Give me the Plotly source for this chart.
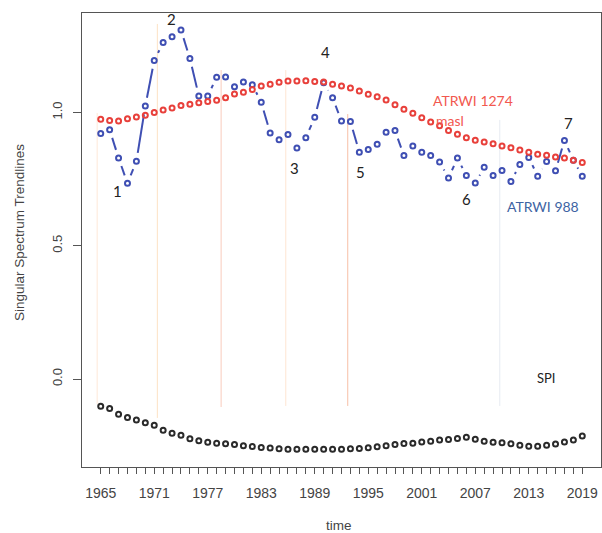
import plotly.graph_objects as go

years = list(range(1965, 2020))

atrwi_988 = [0.921, 0.935, 0.829, 0.734, 0.817, 1.024, 1.195, 1.262, 1.284, 1.309,
             1.202, 1.062, 1.062, 1.132, 1.133, 1.096, 1.114, 1.104, 1.038, 0.923,
             0.898, 0.917, 0.867, 0.905, 0.982, 1.111, 1.055, 0.968, 0.966, 0.851,
             0.861, 0.881, 0.926, 0.932, 0.838, 0.874, 0.851, 0.838, 0.814, 0.754,
             0.829, 0.763, 0.735, 0.794, 0.763, 0.782, 0.741, 0.805, 0.831, 0.761,
             0.816, 0.781, 0.895, 0.821, 0.761]

atrwi_1274 = [0.974, 0.970, 0.968, 0.976, 0.983, 0.989, 1.000, 1.009, 1.017, 1.026,
              1.031, 1.036, 1.041, 1.046, 1.055, 1.069, 1.076, 1.086, 1.099, 1.106,
              1.113, 1.118, 1.118, 1.119, 1.116, 1.114, 1.106, 1.099, 1.092, 1.080,
              1.068, 1.059, 1.047, 1.029, 1.012, 0.997, 0.980, 0.964, 0.950, 0.932,
              0.918, 0.905, 0.896, 0.889, 0.883, 0.874, 0.868, 0.859, 0.851, 0.843,
              0.839, 0.833, 0.829, 0.821, 0.812]

spi = [-0.102, -0.111, -0.132, -0.144, -0.154, -0.164, -0.173, -0.192, -0.203, -0.211,
       -0.224, -0.232, -0.237, -0.241, -0.243, -0.246, -0.250, -0.253, -0.257, -0.259,
       -0.262, -0.263, -0.263, -0.263, -0.263, -0.263, -0.263, -0.263, -0.262, -0.261,
       -0.258, -0.254, -0.250, -0.246, -0.242, -0.241, -0.236, -0.233, -0.229, -0.227,
       -0.223, -0.218, -0.226, -0.233, -0.237, -0.239, -0.243, -0.248, -0.252, -0.252,
       -0.248, -0.244, -0.236, -0.229, -0.214]

tick_years = list(range(1965, 2020))
label_years = list(range(1965, 2020, 6))
y_ticks = [0.0, 0.5, 1.0]
y_tick_labels = ["0.0", "0.5", "1.0"]

# Vertical marker lines (period boundaries)
vline_years = [1964.6, 1971.35, 1978.5, 1985.75, 1992.7, 2009.75]
vline_tops = [0.998, 1.332, 1.159, 1.159, 0.994, 0.972]
vline_bottoms = [-0.094, -0.146, -0.105, -0.101, -0.101, -0.101]
vline_colors = ["#fee8d8", "#fde2c4", "#f9cbbd", "#fee5d3", "#f7bfa6", "#e6ebf2"]

# Layout geometry
W, H = 602, 533
ML, MR, MT, MB = 82, 1, 13, 66
X_RANGE = [1962.9, 2021.1]
Y_RANGE = [-0.330, 1.373]
plot_w = W - ML - MR
plot_h = H - MT - MB
sx = plot_w / (X_RANGE[1] - X_RANGE[0])
sy = plot_h / (Y_RANGE[1] - Y_RANGE[0])

BLUE = "#3f4fb3"
RED = "#e8403b"

# R type="b" style line: segments shortened around each point
GAP = 8.5
seg_x, seg_y = [], []
for i in range(len(years) - 1):
    x0, y0 = years[i], atrwi_988[i]
    x1, y1 = years[i + 1], atrwi_988[i + 1]
    dxp = (x1 - x0) * sx
    dyp = (y1 - y0) * sy
    d = (dxp ** 2 + dyp ** 2) ** 0.5
    if d > 2 * GAP:
        f = GAP / d
        seg_x += [x0 + (x1 - x0) * f, x1 - (x1 - x0) * f, None]
        seg_y += [y0 + (y1 - y0) * f, y1 - (y1 - y0) * f, None]

fig = go.Figure()

for yr, top, bot, col in zip(vline_years, vline_tops, vline_bottoms, vline_colors):
    fig.add_shape(type="line", x0=yr, x1=yr, y0=bot, y1=top, xref="x", yref="y",
                  line=dict(color=col, width=1), layer="below")

fig.add_trace(go.Scatter(x=seg_x, y=seg_y, mode="lines",
                         line=dict(color=BLUE, width=2), hoverinfo="skip",
                         showlegend=False))
fig.add_trace(go.Scatter(x=years, y=atrwi_988, mode="markers", name="ATRWI 988",
                         marker=dict(symbol="circle-open", size=5, color=BLUE,
                                     line=dict(width=2, color=BLUE)),
                         showlegend=False))
fig.add_trace(go.Scatter(x=years, y=atrwi_1274, mode="markers", name="ATRWI 1274 masl",
                         marker=dict(symbol="circle-open", size=5, color=RED,
                                     line=dict(width=2, color=RED)),
                         showlegend=False))
fig.add_trace(go.Scatter(x=years, y=spi, mode="markers", name="SPI",
                         marker=dict(symbol="circle-open", size=5, color="#2a2a2a",
                                     line=dict(width=2, color="#2a2a2a")),
                         showlegend=False))


def px2paper(px, py):
    return (px - ML) / plot_w, 1 - (py - MT) / plot_h


annots = [
    ("1", 117, 191, "#222", 15),
    ("2", 171, 19, "#222", 15),
    ("3", 294, 168, "#222", 15),
    ("4", 325, 52, "#222", 15),
    ("5", 360, 172, "#222", 15),
    ("6", 466, 199, "#222", 15),
    ("7", 568, 123, "#222", 15),
    ("ATRWI 1274", 473, 100, "#f2584f", 14),
    ("masl", 450, 121, "#f2584f", 14),
    ("ATRWI 988", 543, 206, "#3e64a3", 14),
    ("SPI", 546, 378, "#222", 13),
]
for txt, px, py, col, fs in annots:
    xp, yp = px2paper(px, py)
    fig.add_annotation(x=xp, y=yp, xref="paper", yref="paper", text=txt,
                       showarrow=False, xanchor="center", yanchor="middle",
                       font=dict(family="Lato", size=fs, color=col))

# axis titles
xp, yp = px2paper(19, 233)
fig.add_annotation(x=xp, y=yp, xref="paper", yref="paper",
                   text="Singular Spectrum Trendlines", textangle=-90,
                   showarrow=False, xanchor="center", yanchor="middle",
                   font=dict(family="Liberation Sans", size=13.5, color="#444"))
xp, yp = px2paper(339, 525)
fig.add_annotation(x=xp, y=yp, xref="paper", yref="paper", text="time",
                   showarrow=False, xanchor="center", yanchor="middle",
                   font=dict(family="Liberation Sans", size=13.5, color="#444"))

fig.update_layout(
    width=W, height=H,
    margin=dict(l=ML, r=MR, t=MT, b=MB),
    paper_bgcolor="white", plot_bgcolor="white",
    showlegend=False,
    xaxis=dict(range=X_RANGE, tickmode="array", tickvals=tick_years,
               ticktext=[str(y) if y in label_years else "" for y in tick_years],
               ticks="outside", ticklen=6, tickwidth=1, tickcolor="#555",
               showline=True, linecolor="#555", linewidth=1.2, mirror=True,
               showgrid=False, zeroline=False, ticklabelstandoff=7,
               tickfont=dict(family="Liberation Sans", size=14, color="#444")),
    yaxis=dict(range=Y_RANGE, tickmode="array", tickvals=y_ticks,
               ticktext=y_tick_labels, tickangle=-90,
               ticks="outside", ticklen=8, tickwidth=1, tickcolor="#555",
               showline=True, linecolor="#555", linewidth=1.2, mirror=True,
               showgrid=False, zeroline=False, ticklabelstandoff=6,
               tickfont=dict(family="Liberation Sans", size=13, color="#444")),
)

fig.write_html("out.html", config={"displayModeBar": False},
               post_script="document.body.style.margin='0';document.body.style.overflow='hidden';")
